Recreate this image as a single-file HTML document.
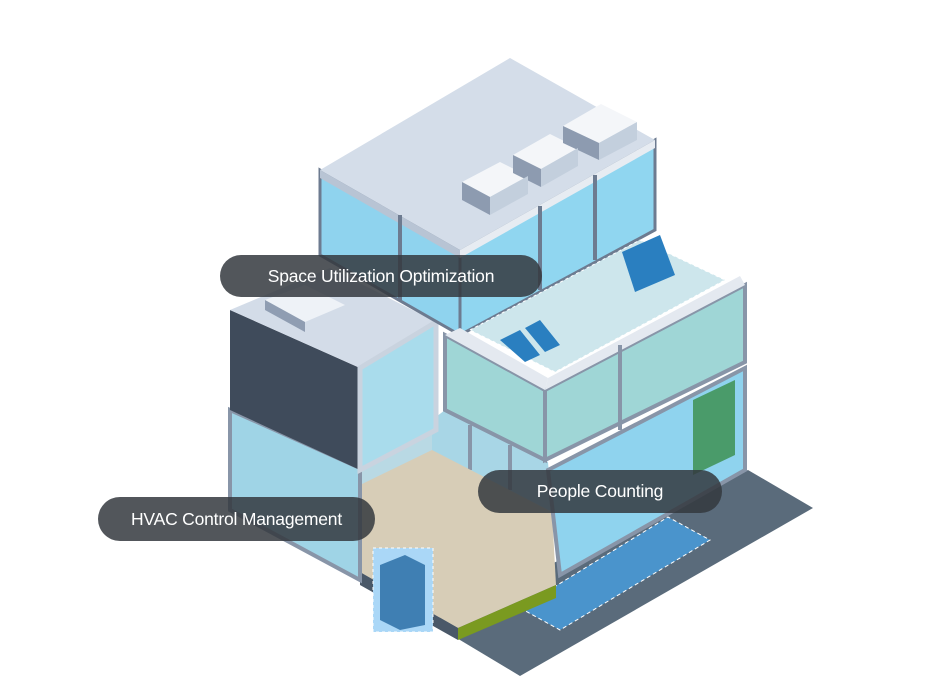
<!DOCTYPE html>
<html><head><meta charset="utf-8"><style>
html,body{margin:0;padding:0;background:#fff;width:928px;height:700px;overflow:hidden}
.pill{position:absolute;background:rgba(52,56,62,0.85);color:#fff;border-radius:22px;font-family:"Liberation Sans",sans-serif;font-size:17.5px;display:flex;align-items:center;justify-content:center;letter-spacing:-0.2px}
</style></head><body>
<svg width="928" height="700" style="position:absolute;left:0;top:0">
<!-- ground -->
<polygon points="430,622 520,676 813,508 748,470" fill="#5a6b7b"/>
<polygon points="520,608 560,630 710,540 668,517" fill="#4a94cc" stroke="#fff" stroke-dasharray="4,3"/>
<!-- back walls of lobby -->
<polygon points="432,420 445,410 548,462 552,512 432,452" fill="#a8d6e6"/>
<g stroke="#8895a8" stroke-width="4"><line x1="470" y1="425" x2="470" y2="470"/><line x1="510" y1="445" x2="510" y2="490"/></g>
<polygon points="360,470 432,432 432,452 360,490" fill="#b9d9e4"/>
<!-- lobby floor -->
<polygon points="360,485 432,450 552,512 556,585 458,628 360,572" fill="#d7cdb7"/>
<polygon points="458,628 556,585 556,598 458,640" fill="#7a9a20"/>
<polygon points="360,572 458,628 458,640 360,585" fill="#4a5868"/>
<!-- left block lower glass -->
<polygon points="230,410 360,468 360,580 230,510" fill="#9fd4e6" stroke="#8895a8" stroke-width="4"/>
<!-- left block dark upper -->
<polygon points="230,310 360,368 360,470 230,410" fill="#3f4b5b"/>
<polygon points="230,310 330,268 436,322 360,368" fill="#d3dce8"/>
<polygon points="265,300 305,285 345,305 305,322" fill="#eef2f7"/>
<polygon points="265,300 305,322 305,332 265,310" fill="#8f9db2"/>
<polygon points="360,368 436,322 436,430 360,470" fill="#a9dcec" stroke="#c9d3df" stroke-width="5"/>
<!-- upper floor -->
<polygon points="320,170 460,250 460,335 320,255" fill="#8fd3ee" stroke="#6d7b90" stroke-width="3"/>
<polygon points="460,250 655,140 655,230 460,335" fill="#90d6f0" stroke="#6d7b90" stroke-width="3"/>
<polygon points="320,170 510,58 655,140 460,250" fill="#d4dde9"/>
<polygon points="320,170 460,250 460,258 320,178" fill="#b8c4d4"/>
<polygon points="460,250 655,140 655,148 460,258" fill="#e7ecf2"/>
<g fill="#f4f6f9"><polygon points="462,182 500,162 528,176 490,197"/><polygon points="513,155 550,134 578,148 541,169"/><polygon points="563,126 601,104 637,122 599,143"/></g>
<g fill="#8d9bb0"><polygon points="462,182 490,197 490,215 462,200"/><polygon points="513,155 541,169 541,187 513,173"/><polygon points="563,126 599,143 599,160 563,143"/></g>
<g fill="#c3cfdd"><polygon points="490,197 528,176 528,194 490,215"/><polygon points="541,169 578,148 578,166 541,187"/><polygon points="599,143 637,122 637,140 599,160"/></g>
<g stroke="#6d7b90" stroke-width="4"><line x1="400" y1="215" x2="400" y2="300"/><line x1="540" y1="206" x2="540" y2="290"/><line x1="595" y1="175" x2="595" y2="260"/></g>
<!-- gym floor -->
<polygon points="445,335 545,390 545,460 445,410" fill="#9fd6d6" stroke="#8895a8" stroke-width="4"/>
<polygon points="545,390 745,285 745,362 545,460" fill="#9fd6d6" stroke="#8895a8" stroke-width="4"/>
<polygon points="470,330 640,240 725,280 555,372" fill="#cde6ec" stroke="#fff" stroke-dasharray="3,3"/>
<g fill="#2a7fc0"><polygon points="500,340 520,330 540,355 525,362"/><polygon points="525,328 540,320 560,345 545,352"/><polygon points="622,252 660,235 675,275 635,292"/></g>
<polygon points="445,335 460,328 548,378 545,390" fill="#e4e9f0"/>
<polygon points="545,390 548,378 740,276 745,285" fill="#e4e9f0"/>
<line x1="620" y1="345" x2="620" y2="430" stroke="#8895a8" stroke-width="4"/>
<!-- lower right floor -->
<polygon points="548,470 745,368 745,470 560,575" fill="#8fd3ee" stroke="#8895a8" stroke-width="4"/>
<polygon points="693,400 735,380 735,455 693,475" fill="#4a9b6a"/>
<!-- HVAC -->
<rect x="373" y="548" width="60" height="84" fill="#aad7f7" stroke="#fff" stroke-dasharray="3,3"/>
<polygon points="380,565 405,555 425,565 425,625 400,630 380,620" fill="#3f7fb3"/>
</svg>
<div class="pill" style="left:220px;top:255px;width:322px;height:42px">Space Utilization Optimization</div>
<div class="pill" style="left:98px;top:497px;width:277px;height:44px">HVAC Control Management</div>
<div class="pill" style="left:478px;top:470px;width:244px;height:43px">People Counting</div>
</body></html>
